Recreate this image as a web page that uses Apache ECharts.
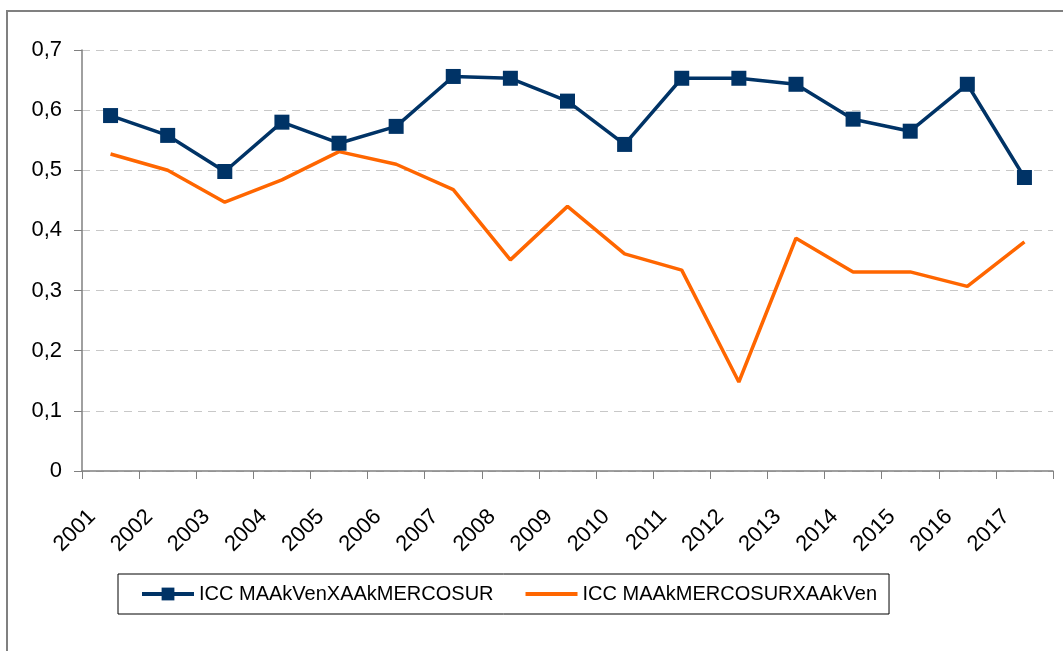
<!DOCTYPE html>
<html>
<head>
<meta charset="utf-8">
<script src="https://cdn.jsdelivr.net/npm/echarts@6/dist/echarts.min.js"></script>
<style>
  html, body { margin: 0; padding: 0; background: #fff; }
  #main { width: 1063px; height: 651px; }
</style>
</head>
<body>
<div id="main"></div>
<script>
const years = ['2001','2002','2003','2004','2005','2006','2007','2008','2009','2010','2011','2012','2013','2014','2015','2016','2017'];
const venMercosur = [0.591, 0.558, 0.498, 0.580, 0.545, 0.573, 0.656, 0.653, 0.615, 0.543, 0.653, 0.653, 0.643, 0.585, 0.565, 0.643, 0.488];
const mercosurVen = [0.527, 0.500, 0.447, 0.484, 0.531, 0.510, 0.468, 0.351, 0.440, 0.361, 0.334, 0.148, 0.387, 0.331, 0.331, 0.307, 0.381];
const seriesNames = ['ICC MAAkVenXAAkMERCOSUR', 'ICC MAAkMERCOSURXAAkVen'];

const font = 'Liberation Sans, Arial, sans-serif';
const chart = echarts.init(document.getElementById('main'));

chart.setOption({
  animation: false,
  backgroundColor: '#fff',
  graphic: [{
    type: 'rect',
    shape: { x: 7, y: 11, width: 1100, height: 700 },
    style: { fill: 'none', stroke: '#808080', lineWidth: 2 }
  }],
  grid: { left: 82, right: 10, top: 50, bottom: 180 },
  xAxis: {
    type: 'category',
    data: years,
    boundaryGap: true,
    axisLine: { lineStyle: { color: '#808080', width: 1.5 } },
    axisTick: { show: true, length: 8, lineStyle: { color: '#808080' } },
    axisLabel: {
      rotate: 45,
      margin: 24,
      padding: [0, 26, 0, 0],
      fontFamily: font,
      fontSize: 22,
      color: '#000'
    }
  },
  yAxis: {
    type: 'value',
    min: 0,
    max: 0.7,
    interval: 0.1,
    axisLine: { show: true, lineStyle: { color: '#808080', width: 1.5 } },
    axisTick: { show: true, length: 8, lineStyle: { color: '#808080' } },
    axisLabel: {
      margin: 20,
      fontFamily: font,
      fontSize: 22,
      color: '#000',
      formatter: v => v === 0 ? '0' : v.toFixed(1).replace('.', ',')
    },
    splitLine: { lineStyle: { color: '#c8c8c8', type: [8, 6] } }
  },
  legend: {
    left: 118,
    top: 574,
    padding: [10, 12, 10, 22],
    itemGap: 30,
    itemWidth: 52,
    itemHeight: 16,
    borderColor: '#000',
    borderWidth: 1,
    textStyle: { fontFamily: font, fontSize: 20, color: '#000' },
    data: [
      { name: seriesNames[0], lineStyle: { width: 4 } },
      { name: seriesNames[1], lineStyle: { width: 4 }, itemStyle: { color: 'transparent', borderWidth: 0 } }
    ]
  },
  series: [
    {
      name: seriesNames[0],
      type: 'line',
      data: venMercosur,
      symbol: 'rect',
      symbolSize: 15,
      lineStyle: { color: '#003366', width: 3.5 },
      itemStyle: { color: '#003366' }
    },
    {
      name: seriesNames[1],
      type: 'line',
      data: mercosurVen,
      symbol: 'none',
      lineStyle: { color: '#ff6600', width: 3.5 },
      itemStyle: { color: '#ff6600' }
    }
  ]
});
</script>
</body>
</html>
